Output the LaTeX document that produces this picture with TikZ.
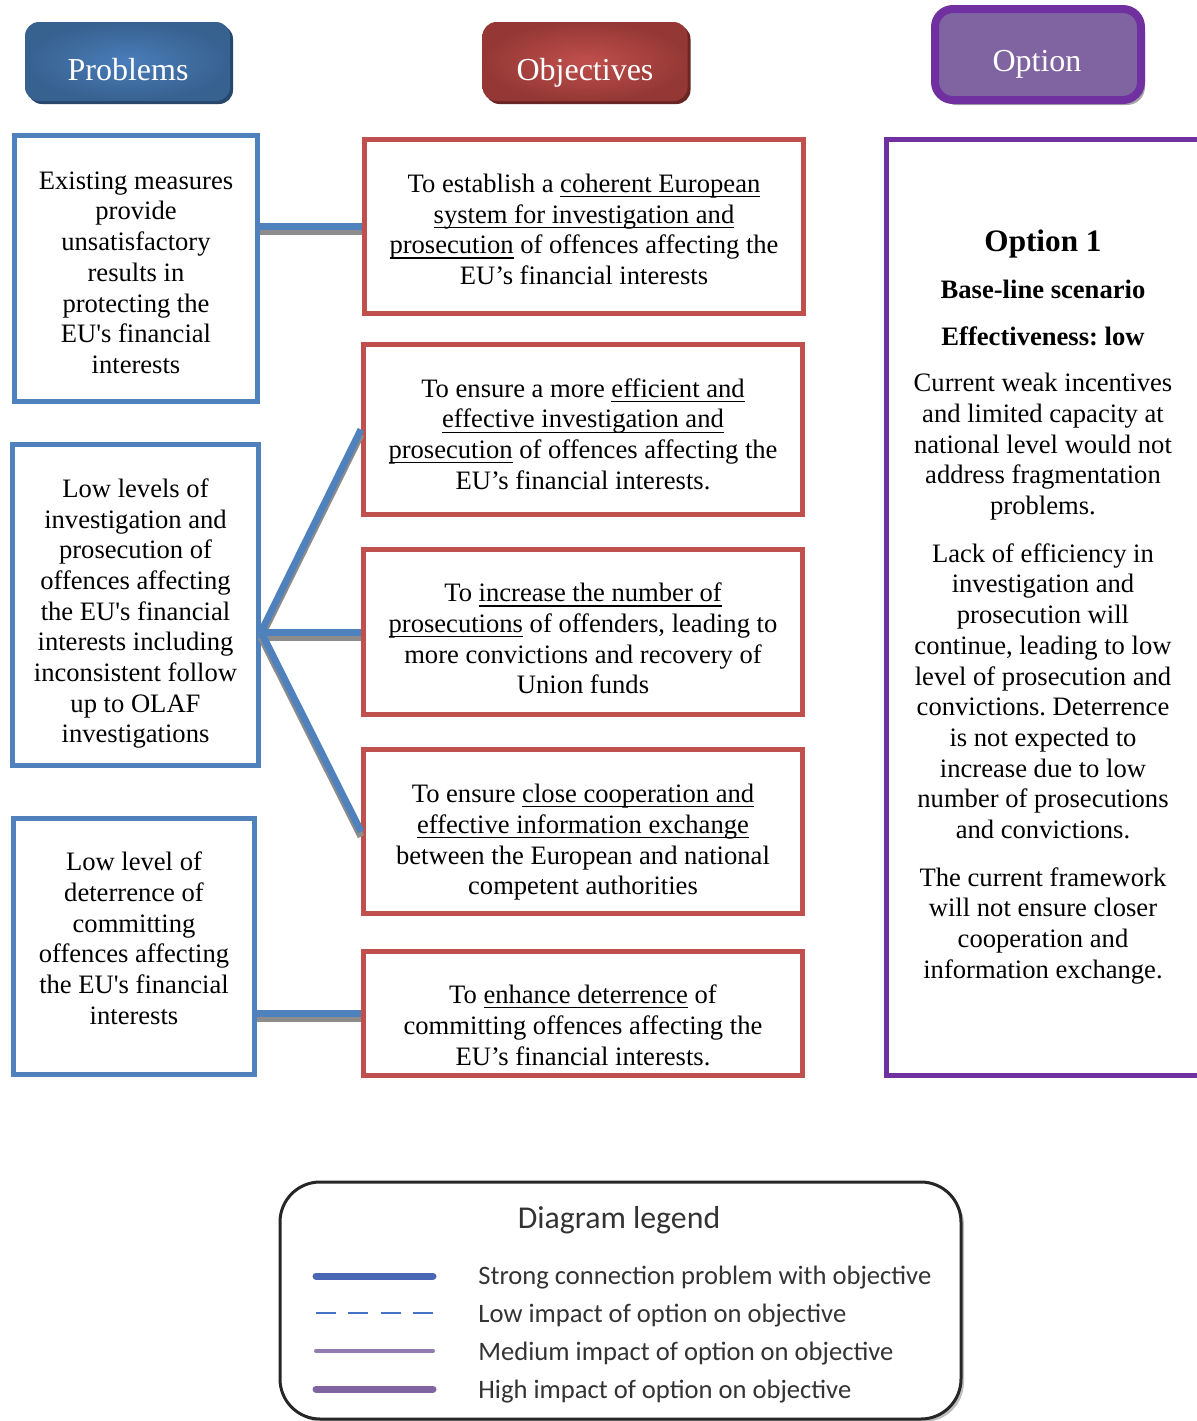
\documentclass[tikz,border=0pt]{standalone}
\usepackage{fontspec}
\setmainfont{Liberation Serif}
\newfontfamily\legendfont{Carlito}
\usetikzlibrary{positioning,shadows,calc}
\frenchspacing

\definecolor{probblue}{HTML}{4F81BD}
\definecolor{objred}{HTML}{C0504D}
\definecolor{optpurple}{HTML}{7030A0}
\definecolor{optfill}{HTML}{8064A2}
\definecolor{hblueA}{HTML}{4A7DBA}
\definecolor{hblueB}{HTML}{37618F}
\definecolor{hblueC}{HTML}{27476C}
\definecolor{hredA}{HTML}{C04F4C}
\definecolor{hredB}{HTML}{953835}
\definecolor{hredC}{HTML}{6A2624}
\definecolor{legblue}{HTML}{4A67B5}
\definecolor{legdash}{HTML}{4472C4}
\definecolor{legpurple}{HTML}{8064A2}

\newcommand\boxfont{\fontsize{13.3}{15.35}\selectfont}
\newcommand\uln[1]{\setbox0=\hbox{#1}\rlap{\rule[-2.4pt]{\wd0}{0.6pt}}\box0\relax}
\newcommand\topgap[1]{\rule{0pt}{#1}}

\tikzset{
	headbox/.style={rounded corners=7pt, inner sep=0pt,
		minimum width=102.5pt, minimum height=39.5pt},
	headtxt/.style={anchor=base, text=white, font=\fontsize{16}{19}\selectfont},
	probbox/.style={draw=probblue, line width=2.5pt, align=center, font=\boxfont, inner sep=0pt},
	objbox/.style={draw=objred, line width=2.5pt, align=center, font=\boxfont, inner sep=0pt,
		minimum width=219.5pt},
	optbox/.style={draw=optpurple, line width=2.5pt, align=center, font=\boxfont, inner sep=0pt},
	link/.style={draw=probblue, line width=3.5pt,
		preaction={draw=black!45, line width=3.5pt, transform canvas={yshift=-2.5pt}}},
	legtxt/.style={anchor=base west, inner sep=0pt, font=\legendfont\fontsize{13.3}{16}\selectfont, text=black!80},
	strongline/.style={draw=legblue, line width=3.5pt, line cap=round},
	lowline/.style={draw=legdash, line width=1pt, dash pattern=on 10pt off 6.2pt},
	medline/.style={draw=legpurple!85, line width=2pt, line cap=round},
	highline/.style={draw=legpurple, line width=3.5pt, line cap=round},
}

\begin{document}
\begin{tikzpicture}[x=0.5pt,y=-0.5pt]
	\useasboundingbox (0,0) rectangle (1197,1421);

	% column heads
	\node[headbox, inner color=hblueA, outer color=hblueB,
		drop shadow={shadow xshift=1.5pt, shadow yshift=-1.5pt, fill=hblueC, opacity=1}] (hprob) at (127.5,61.5) {};
	\node[headtxt] (hprobtxt) at (128,80) {Problems};
	\node[headbox, inner color=hredA, outer color=hredB,
		drop shadow={shadow xshift=1.5pt, shadow yshift=-1.5pt, fill=hredC, opacity=1}] (hobj) at (585,61.5) {};
	\node[headtxt] (hobjtxt) at (585,80) {Objectives};
	\node[headbox, draw=optpurple, line width=4pt, fill=optfill, rounded corners=9pt,
		minimum width=103pt, minimum height=45.5pt,
		drop shadow={shadow xshift=2pt, shadow yshift=-2.5pt, fill=black!35, opacity=1}] (hopt) at (1038,54.5) {};
	\node[headtxt] (hopttxt) at (1037,71) {Option};

	% problems
	\node[probbox, minimum width=121.5pt, minimum height=133pt] (P1) at (136,268.5)
		{\topgap{13pt}Existing measures\\ provide\\ unsatisfactory\\ results in\\ protecting the\\ EU\textquotesingle s financial\\ interests};
	\node[probbox, minimum width=123pt, minimum height=160.5pt] (P2) at (135.5,605)
		{\topgap{18pt}Low levels of\\ investigation and\\ prosecution of\\ offences affecting\\ the EU\textquotesingle s financial\\ interests including\\ inconsistent follow\\ up to OLAF\\ investigations};
	\node[probbox, minimum width=120.5pt, minimum height=128pt] (P3) at (134,946.5)
		{Low level of\\ deterrence of\\ committing\\ offences affecting\\ the EU\textquotesingle s financial\\ interests\\[-7pt]};

	% objectives
	\node[objbox, minimum height=87pt] (O1) at (584,226.5)
		{\topgap{12pt}To establish a \uln{coherent European}\\ \uln{system for investigation and}\\ \uln{prosecution} of offences affecting the\\ EU’s financial interests};
	\node[objbox, minimum height=85pt] (O2) at (583,429.5)
		{\topgap{14pt}To ensure a more \uln{efficient and}\\ \uln{effective investigation and}\\ \uln{prosecution} of offences affecting the\\ EU’s financial interests.};
	\node[objbox, minimum height=82.5pt] (O3) at (583,632)
		{\topgap{16pt}To \uln{increase the number of}\\ \uln{prosecutions} of offenders, leading to\\ more convictions and recovery of\\ Union funds};
	\node[objbox, minimum height=82pt] (O4) at (583,831.5)
		{\topgap{20pt}To ensure \uln{close cooperation and}\\ \uln{effective information exchange}\\ between the European and national\\ competent authorities};
	\node[objbox, minimum height=62pt] (O5) at (583,1013.5)
		{\topgap{21pt}To \uln{enhance deterrence} of\\ committing offences affecting the\\ EU’s financial interests.};

	% option
	\node[optbox, minimum width=157pt, minimum height=468pt] (opt) at (1043,607)
		{{\fontsize{15.6}{18}\selectfont\bfseries Option 1}\\[8pt]
		\textbf{Base-line scenario}\\[8pt]
		\textbf{Effectiveness: low}\\[8pt]
		Current weak incentives\\ and limited capacity at\\ national level would not\\ address fragmentation\\ problems.\\[8.5pt]
		Lack of efficiency in\\ investigation and\\ prosecution will\\ continue, leading to low\\ level of prosecution and\\ convictions. Deterrence\\ is not expected to\\ increase due to low\\ number of prosecutions\\ and convictions.\\[8.5pt]
		The current framework\\ will not ensure closer\\ cooperation and\\ information exchange.};

	% links problem -> objective
	\draw[link] (P1.east |- O1) -- (O1.west);
	\draw[link] (P2.east |- O3) -- (O2.west);
	\draw[link] (P2.east |- O3) -- (O3.west);
	\draw[link] (P2.east |- O3) -- (O4.west);
	\draw[link] (P3.east |- O5) -- (O5.west);

	% legend
	\node[draw=black!85, line width=1.5pt, rounded corners=20pt, minimum width=340.5pt, minimum height=118.5pt,
		fill=white, drop shadow={shadow xshift=1.5pt, shadow yshift=-1.5pt, fill=black!25, opacity=1}] (legend) at (620.5,1300.5) {};
	\node[anchor=base, font=\legendfont\fontsize{15.9}{19}\selectfont, text=black!80] (legtitle) at (619,1228) {Diagram legend};
	\node[legtxt] (leg1) at (478,1284) {Strong connection problem with objective};
	\node[legtxt] (leg2) at (478,1322) {Low impact of option on objective};
	\node[legtxt] (leg3) at (478,1360) {Medium impact of option on objective};
	\node[legtxt] (leg4) at (478,1398) {High impact of option on objective};
	\draw[strongline] (316,1276) -- (433,1276);
	\draw[lowline] (316,1313) -- (433,1313);
	\draw[medline] (316,1351) -- (433,1351);
	\draw[highline] (316,1389) -- (433,1389);
\end{tikzpicture}
\end{document}
